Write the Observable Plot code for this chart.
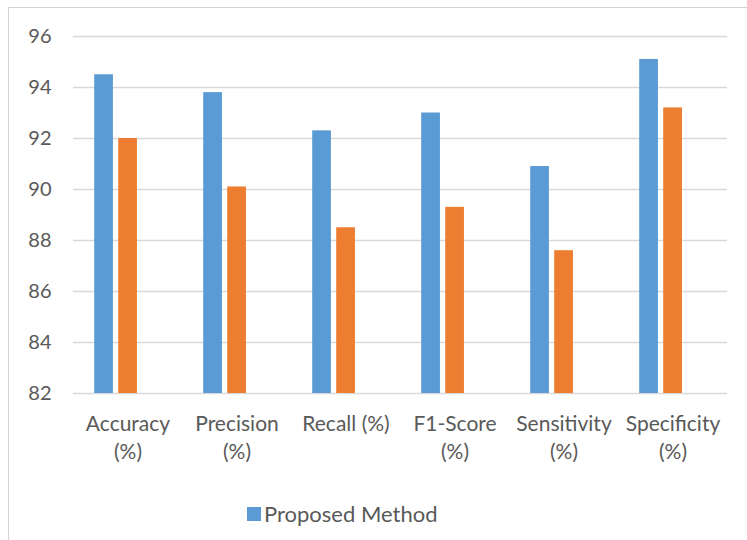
<!DOCTYPE html>
<html><head><meta charset="utf-8">
<script src="https://cdn.jsdelivr.net/npm/d3@7"></script>
<script src="https://cdn.jsdelivr.net/npm/@observablehq/plot@0.6"></script>
<style>
html,body{margin:0;padding:0;background:#fff;overflow:hidden}
#frame{position:absolute;left:8px;top:7px;width:760px;height:560px;border-left:1px solid #d4d4d4;border-top:1px solid #d4d4d4;font-family:Lato,sans-serif;color:#595959}
#frame svg{display:block}
.legend{display:flex;align-items:center;margin-left:238px;margin-top:14px;font-size:22px;line-height:24px}
.sw{width:14px;height:14px;background:#5b9bd5;margin-right:3px}
</style></head><body><div id="frame"></div>
<script>
const categories = ["Accuracy (%)", "Precision (%)", "Recall (%)", "F1-Score (%)", "Sensitivity (%)", "Specificity (%)"];
const tickLabels = ["Accuracy\n(%)", "Precision\n(%)", "Recall (%)", "F1-Score\n(%)", "Sensitivity\n(%)", "Specificity\n(%)"];
const series = ["Proposed Method", "Existing Method"];
const proposed = [94.5, 93.8, 92.3, 93.0, 90.9, 95.1];
const existing = [92.0, 90.1, 88.5, 89.3, 87.6, 93.2];
const yTicks = [82, 84, 86, 88, 90, 92, 94, 96];
const colors = ["#5b9bd5", "#ed7d31"];

const data = categories.flatMap((c, i) => [
  {category: c, series: series[0], value: proposed[i]},
  {category: c, series: series[1], value: existing[i]}
]);

const plot = Plot.plot({
  width: 738,
  height: 480,
  marginLeft: 64,
  marginRight: 20,
  marginTop: 28,
  marginBottom: 95,
  style: {fontFamily: "Lato, sans-serif", fontSize: "21px", color: "#595959", background: "transparent", overflow: "visible"},
  fx: {domain: categories, paddingInner: 0, paddingOuter: 0, round: false, label: null},
  x: {domain: series, axis: null, paddingInner: 0.22, paddingOuter: 1.38, align: 0.32, round: false},
  y: {domain: [yTicks[0], yTicks[yTicks.length - 1]], label: null},
  color: {domain: series, range: colors},
  marks: [
    Plot.gridY(yTicks, {stroke: "#d9d9d9", strokeOpacity: 1, strokeWidth: 1.5}),
    Plot.barY(data, {fx: "category", x: "series", y1: yTicks[0], y2: "value", fill: "series"}),
    Plot.axisY(yTicks, {tickSize: 0, tickPadding: 22, label: null, fontSize: 20, fill: "#595959"}),
    Plot.axisFx({anchor: "bottom", tickSize: 0, tickPadding: 17, label: null, fontSize: 21, fill: "#595959", lineHeight: 1.35,
      tickFormat: d => tickLabels[categories.indexOf(d)], textOverflow: null})
  ]
});
const frame = document.getElementById("frame");
frame.appendChild(plot);
const legend = document.createElement("div");
legend.className = "legend";
legend.innerHTML = `<span class="sw"></span><span>${series[0]}</span>`;
frame.appendChild(legend);
</script></body></html>
